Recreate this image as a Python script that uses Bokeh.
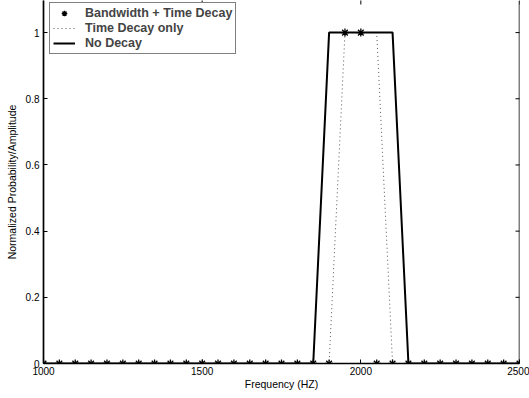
from bokeh.plotting import figure
from bokeh.models import FixedTicker, Range1d, Legend, LegendItem, Span
from bokeh.embed import file_html
from bokeh.resources import INLINE

# ---- data ----
freq = [1000, 1050, 1100, 1150, 1200, 1250, 1300, 1350, 1400, 1450,
        1500, 1550, 1600, 1650, 1700, 1750, 1800, 1850, 1900, 1950,
        2000, 2050, 2100, 2150, 2200, 2250, 2300, 2350, 2400, 2450, 2500]
bw_time_decay = [0, 0, 0, 0, 0, 0, 0, 0, 0, 0,
                 0, 0, 0, 0, 0, 0, 0, 0, 0, 1,
                 1, 0, 0, 0, 0, 0, 0, 0, 0, 0, 0]
time_decay_x = [1000, 1900, 1950, 2050, 2100, 2500]
time_decay_y = [0, 0, 1, 1, 0, 0]
no_decay_x = [1000, 1850, 1900, 2100, 2150, 2500]
no_decay_y = [0, 0, 1, 1, 0, 0]
x_ticks = [1000, 1500, 2000, 2500]
y_ticks = [0, 0.2, 0.4, 0.6, 0.8, 1]
y_tick_labels = ["0", "0.2", "0.4", "0.6", "0.8", "1"]

X_MIN, X_MAX = 1000, 2500
Y_MIN, Y_TOP = 0, 1.097

FONT = "Liberation Sans"

p = figure(width=529, height=398, output_backend="svg", toolbar_location=None,
           x_range=Range1d(X_MIN, X_MAX), y_range=Range1d(Y_MIN, Y_TOP),
           min_border_left=43, min_border_right=10, min_border_top=0,
           min_border_bottom=35, background_fill_color="white",
           border_fill_color="white", outline_line_color=None)
p.grid.visible = False

r_dot = p.line(time_decay_x, time_decay_y, line_color="#555555", line_width=1,
               line_dash="1 3")
r_solid = p.line(no_decay_x, no_decay_y, line_color="black", line_width=2)
r_star = p.scatter(freq, bw_time_decay, marker="asterisk", size=8,
                   line_color="black", line_width=1.3)

# right frame edge with inward ticks, and inward ticks at the (cut) top
p.add_layout(Span(location=X_MAX, dimension="height", line_color="black",
                  line_width=1.5))
p.scatter([X_MAX] * len(y_ticks), y_ticks, marker="dash", size=8,
          line_color="black", line_width=1)
p.scatter(x_ticks, [Y_TOP] * len(x_ticks), marker="dash", angle=1.5708,
          size=8, line_color="black", line_width=1)

for ax in (p.xaxis[0], p.yaxis[0]):
    ax.axis_line_width = 1.7
    ax.major_tick_in = 4
    ax.major_tick_out = 0
    ax.minor_tick_in = 0
    ax.minor_tick_out = 0
    ax.major_label_text_font = FONT
    ax.major_label_text_font_size = "10px"
    ax.major_label_text_color = "black"
    ax.axis_label_text_font = FONT
    ax.axis_label_text_font_size = "10.5px"
    ax.axis_label_text_font_style = "normal"
    ax.axis_label_text_color = "black"

p.xaxis[0].ticker = FixedTicker(ticks=x_ticks)
p.xaxis[0].axis_label = "Frequency (HZ)"
p.xaxis[0].major_label_standoff = 3
p.xaxis[0].axis_label_standoff = 0

p.yaxis[0].ticker = FixedTicker(ticks=y_ticks)
p.yaxis[0].major_label_overrides = {t: s for t, s in zip(y_ticks, y_tick_labels)}
p.yaxis[0].axis_label = "Normalized Probability/Amplitude"
p.yaxis[0].major_label_standoff = 4
p.yaxis[0].axis_label_standoff = 5

legend = Legend(items=[
    LegendItem(label="Bandwidth + Time Decay", renderers=[r_star]),
    LegendItem(label="Time Decay only", renderers=[r_dot]),
    LegendItem(label="No Decay", renderers=[r_solid]),
])
legend.margin = 0
legend.padding = 3
legend.spacing = 1
legend.glyph_width = 22
legend.glyph_height = 14
legend.label_height = 14
legend.label_standoff = 10
legend.label_text_font = FONT
legend.label_text_font_style = "bold"
legend.label_text_font_size = "12.5px"
legend.label_text_line_height = 1.0
legend.border_line_color = "black"
legend.border_line_width = 1.2
legend.background_fill_alpha = 1
legend.location = (6, 309)
p.add_layout(legend, "center")

open("out.html", "w").write(file_html(p, INLINE))
